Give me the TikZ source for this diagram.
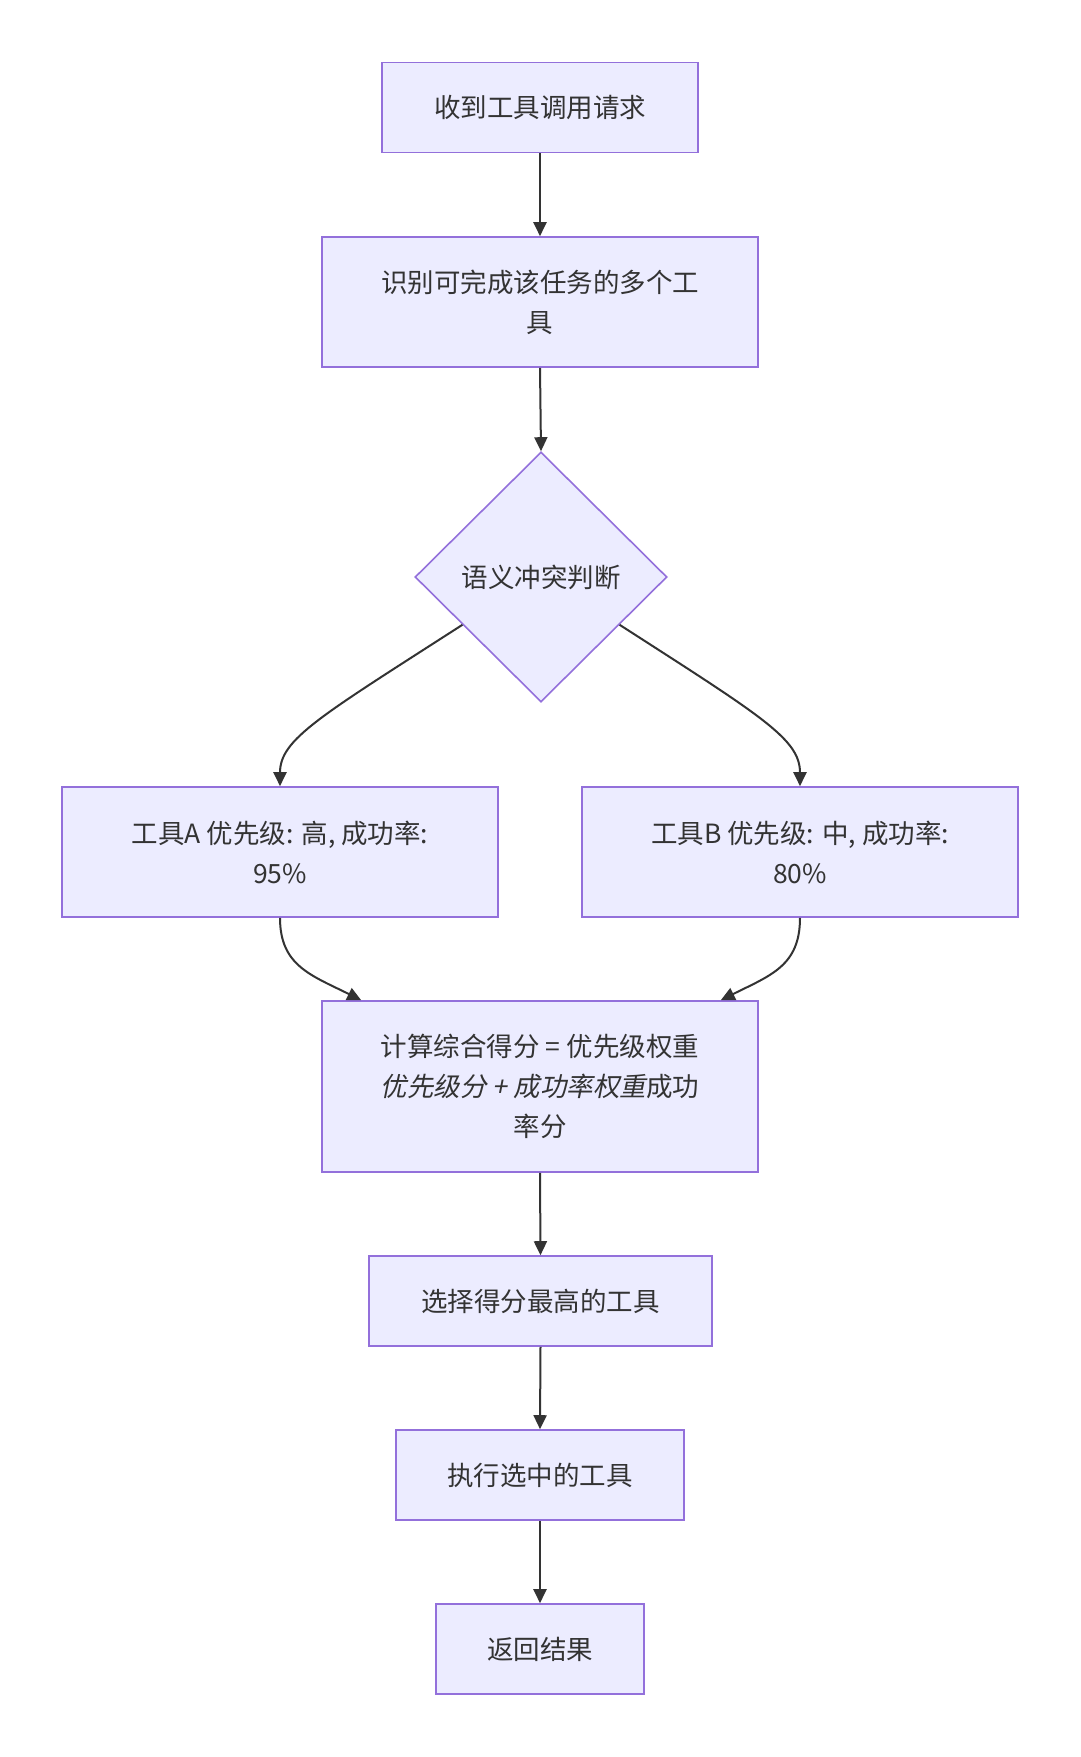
\documentclass[tikz,border=0pt]{standalone}
\usepackage{fontspec}
\setmainfont{Noto Sans CJK SC}
\newfontfamily\cjkit[FakeSlant=0.2]{Noto Sans CJK SC}
\usetikzlibrary{shapes.geometric,arrows.meta,calc}
\definecolor{nodefill}{HTML}{ECECFF}
\definecolor{nodeline}{HTML}{9370DB}
\definecolor{txt}{HTML}{333333}
\definecolor{edge}{HTML}{333333}
\begin{document}
\begin{tikzpicture}[x=1pt,y=-1pt,
  box/.style={draw=nodeline,fill=nodefill,line width=1.6pt,inner sep=0pt,
    text=txt,align=center,font=\fontsize{26.5}{40}\selectfont},
  decision/.style={diamond,draw=nodeline,fill=nodefill,line width=1.6pt,inner sep=0pt,
    text=txt,align=center,font=\fontsize{26.5}{40}\selectfont,
    minimum width=252pt,minimum height=250pt},
  link/.style={draw=edge,line width=2pt,-{Triangle[length=14pt,width=13pt]}}]
\useasboundingbox[fill=white] (0,0) rectangle (1080,1757);

\node[box,minimum width=316pt,minimum height=90pt] (b1) at (540,107.5) {收到工具调用请求};
\node[box,minimum width=436pt,minimum height=130pt] (b2) at (540,302) {识别可完成该任务的多个工\\具};
\node[decision] (d) at (541,577) {语义冲突判断};
\node[box,minimum width=436pt,minimum height=130pt] (bA) at (280,852) {工具A 优先级: 高, 成功率:\\95\%};
\node[box,minimum width=436pt,minimum height=130pt] (bB) at (800,852) {工具B 优先级: 中, 成功率:\\80\%};
\node[box,minimum width=436pt,minimum height=171pt] (bC) at (540,1086.5) {计算综合得分 = 优先级权重\\{\cjkit 优先级分 + 成功率权重}成功\\率分};
\node[box,minimum width=343pt,minimum height=90pt] (bS) at (540.5,1301) {选择得分最高的工具};
\node[box,minimum width=288pt,minimum height=90pt] (bE) at (540,1475) {执行选中的工具};
\node[box,minimum width=208pt,minimum height=90pt] (bR) at (540,1649) {返回结果};

\coordinate (sA) at ($(d.west)!0.38!(d.south)$);
\coordinate (sB) at ($(d.east)!0.38!(d.south)$);
\coordinate (tA) at ($(bC.north west)+(40,0)$);
\coordinate (tB) at ($(bC.north east)+(-38,0)$);

\draw[link] (b1.south) -- (b2.north);
\draw[link] (b2.south) -- (d.north);
\draw[link] (sA) .. controls +(-143,92) and +(0,-47) .. (bA.north);
\draw[link] (sB) .. controls +(143,92) and +(0,-47) .. (bB.north);
\draw[link] (bA.south) .. controls +(0,48) and +(-50,-25) .. (tA);
\draw[link] (bB.south) .. controls +(0,48) and +(50,-25) .. (tB);
\draw[link] (bC.south) -- (bS.north);
\draw[link] (bS.south) -- (bE.north);
\draw[link] (bE.south) -- (bR.north);
\end{tikzpicture}
\end{document}
